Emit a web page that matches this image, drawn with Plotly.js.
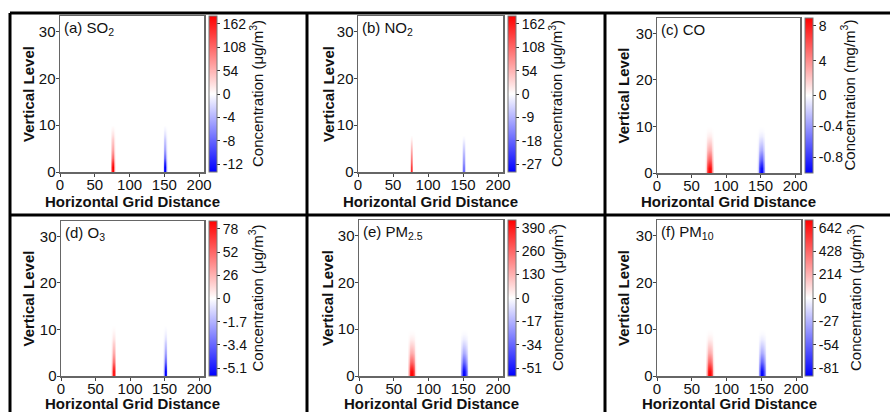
<!DOCTYPE html>
<html>
<head>
<meta charset="utf-8">
<script src="https://cdn.plot.ly/plotly-3.0.1.min.js"></script>
<style>html,body{margin:0;padding:0;background:#fff;}#chart{width:890px;height:412px;}</style>
</head>
<body>
<div id="chart"></div>
<script>
// ---- data ----
const panelLabels = ['(a) SO<sub>2</sub>', '(b) NO<sub>2</sub>', '(c) CO', '(d) O<sub>3</sub>', '(e) PM<sub>2.5</sub>', '(f) PM<sub>10</sub>'];
const unitLabels = ['μg/m<sup>3</sup>', 'μg/m<sup>3</sup>', 'mg/m<sup>3</sup>', 'μg/m<sup>3</sup>', 'μg/m<sup>3</sup>', 'μg/m<sup>3</sup>'];
const xTitle = 'Horizontal Grid Distance';
const yTitle = 'Vertical Level';
// colour-bar ends (two-slope, centred on 0)
const cbarMax = [180, 180, 8.9, 86.7, 433, 713];
const cbarMin = [-13.3, -30, -1.0, -5.67, -56.7, -90];
// colour-bar tick labels
const posTicks = [[54, 108, 162], [54, 108, 162], [4, 8], [26, 52, 78], [130, 260, 390], [214, 428, 642]];
const negTicks = [[-4, -8, -12], [-9, -18, -27], [-0.4, -0.8], [-1.7, -3.4, -5.1], [-17, -34, -51], [-27, -54, -81]];
// plume peak values (surface) of the increase and decrease plumes
const redPeak = [180, 170, 8.9, 86.7, 433, 713];
const bluePeak = [-13.3, -28, -1.0, -5.67, -56.7, -90];
// plume centres (horizontal grid index)
const redCentre = [76, 76, 76, 76, 76, 76];
const blueCentre = [151, 151, 151, 151, 151, 151];
// horizontal plume profiles (relative, centred)
const thinProfile = [0.2, 0.7, 1, 0.7, 0.2];
const narrowProfile = [0.1, 0.45, 0.9, 1, 0.9, 0.45, 0.1];
const wideProfile = [0.05, 0.2, 0.45, 0.7, 0.9, 1, 1, 1, 0.9, 0.7, 0.45, 0.2, 0.05];
const panelHProfile = [narrowProfile, thinProfile, wideProfile, narrowProfile, wideProfile, wideProfile];
// vertical plume profiles (relative, level 0 upward)
const vertA = [1, 1, 0.85, 0.6, 0.45, 0.35, 0.27, 0.2, 0.12, 0.05, 0];
const vertB = [0.9, 0.8, 0.65, 0.52, 0.4, 0.3, 0.18, 0.06, 0, 0, 0];
const vertC = [1, 0.95, 0.8, 0.6, 0.45, 0.33, 0.23, 0.14, 0.07, 0.02, 0];
const vertD = [1, 1, 0.85, 0.62, 0.47, 0.37, 0.28, 0.2, 0.12, 0.06, 0.02];
const panelVProfile = [vertA, vertB, vertC, vertD, vertC, vertC];
const nCols = 207;   // horizontal grid points
const nLevels = 34;  // vertical levels
const xTicks = [0, 50, 100, 150, 200];
const yTicks = [0, 10, 20, 30];

// ---- layout geometry (pixels) ----
const W = 890, H = 412;
const plotBoxes = [
  [60, 204, 16, 172], [358, 503, 16, 172], [657, 800, 18, 173],
  [61, 204, 221, 376], [359, 503, 220, 376], [657, 801, 220, 376]
];
const cbarLeft = [209, 508, 805, 209, 508, 805];
const cbarTitleX = [256, 555, 848, 256, 556, 854];
const yTitleX = [28, 328, 623, 28, 327, 623];
const xTitleY = [201, 201, 201, 403, 403, 403];

const xs = Array.from({length: nCols}, (_, i) => i);
const ys = Array.from({length: nLevels}, (_, j) => j);

function normalise(v, k) {
  return v >= 0 ? v / cbarMax[k] : v / Math.abs(cbarMin[k]);
}

const bwr = [[0, 'rgb(0,0,255)'], [0.5, 'rgb(255,255,255)'], [1, 'rgb(255,0,0)']];
const FS = 15, TFS = 14;

const traces = [];
const layout = {
  width: W, height: H,
  margin: {l: 0, r: 0, t: 0, b: 0},
  paper_bgcolor: '#fff', plot_bgcolor: '#fff',
  font: {family: 'Liberation Sans, Arial, sans-serif', size: FS, color: '#111'},
  showlegend: false,
  annotations: [],
  shapes: []
};

for (let k = 0; k < 6; k++) {
  const hp = panelHProfile[k], vp = panelVProfile[k];
  const half = (hp.length - 1) / 2;
  const z = ys.map(j => xs.map(i => {
    let v = 0;
    const vr = j < vp.length ? vp[j] : 0;
    const dr = i - redCentre[k] + half;
    if (dr >= 0 && dr < hp.length) v += redPeak[k] * vr * hp[dr];
    const db = i - blueCentre[k] + half;
    if (db >= 0 && db < hp.length) v += bluePeak[k] * vr * hp[db];
    return normalise(v, k);
  }));
  const tv = [0], tt = ['0'];
  posTicks[k].forEach(t => { tv.push(normalise(t, k)); tt.push(String(t)); });
  negTicks[k].forEach(t => { tv.push(normalise(t, k)); tt.push(String(t)); });
  const [x0, x1, y0, y1] = plotBoxes[k];
  const sfx = k === 0 ? '' : String(k + 1);
  traces.push({
    type: 'heatmap', x: xs, y: ys, z: z,
    xaxis: 'x' + sfx, yaxis: 'y' + sfx,
    zmin: -1, zmax: 1, colorscale: bwr, zsmooth: 'best',
    hoverinfo: 'skip',
    colorbar: {
      x: cbarLeft[k] / W, xanchor: 'left', xpad: 0, ypad: 0,
      y: 1 - ((y0 + y1) / 2) / H, yanchor: 'middle',
      len: (y1 - y0), lenmode: 'pixels', thickness: 8,
      outlinewidth: 1, outlinecolor: '#777',
      tickmode: 'array', tickvals: tv, ticktext: tt,
      ticks: 'outside', ticklen: 3, tickcolor: '#333',
      tickfont: {size: TFS, color: '#111'}
    }
  });
  const axCommon = {
    showline: true, mirror: true, linecolor: '#666', linewidth: 1.5,
    ticks: 'outside', ticklen: 3, tickcolor: '#444',
    showgrid: true, gridcolor: '#d4d4d4', griddash: 'dot', gridwidth: 1,
    zeroline: false, tickfont: {size: FS, color: '#111'}
  };
  layout['xaxis' + sfx] = Object.assign({}, axCommon, {
    domain: [x0 / W, x1 / W], anchor: 'y' + sfx, range: [0, 207],
    tickmode: 'array', tickvals: xTicks, ticklabelstandoff: -5
  });
  layout['yaxis' + sfx] = Object.assign({}, axCommon, {
    domain: [1 - y1 / H, 1 - y0 / H], anchor: 'x' + sfx, range: [0, 33.3],
    tickmode: 'array', tickvals: yTicks, ticklabelstandoff: -3
  });
  layout.annotations.push({
    xref: 'x' + sfx + ' domain', yref: 'y' + sfx + ' domain',
    x: 0.012, y: 0.995, xanchor: 'left', yanchor: 'top', showarrow: false,
    text: panelLabels[k], font: {size: FS, color: '#111'}
  });
  // axis titles
  layout.annotations.push({
    xref: 'paper', yref: 'paper',
    x: ((x0 + x1) / 2) / W, y: 1 - xTitleY[k] / H, xanchor: 'center', yanchor: 'middle',
    showarrow: false, text: '<b>' + xTitle + '</b>', font: {size: FS, color: '#111'}
  });
  layout.annotations.push({
    xref: 'paper', yref: 'paper',
    x: yTitleX[k] / W, y: 1 - ((y0 + y1) / 2) / H, xanchor: 'center', yanchor: 'middle',
    textangle: -90, showarrow: false, text: '<b>' + yTitle + '</b>', font: {size: FS, color: '#111'}
  });
  // colour-bar title
  layout.annotations.push({
    xref: 'paper', yref: 'paper',
    x: cbarTitleX[k] / W, y: 1 - ((y0 + y1) / 2) / H, xanchor: 'center', yanchor: 'middle',
    textangle: -90, showarrow: false, text: 'Concentration (' + unitLabels[k] + ')', font: {size: FS, color: '#111'}
  });
}

// table-like frame lines
const frameLines = [
  [10, 13, 890, 13], [10, 215, 890, 215],
  [10, 13, 10, 412], [307, 13, 307, 412], [605, 13, 605, 412]
];
frameLines.forEach(([ax, ay, bx, by]) => {
  layout.shapes.push({
    type: 'line', xref: 'paper', yref: 'paper',
    x0: ax / W, y0: 1 - ay / H, x1: bx / W, y1: 1 - by / H,
    line: {color: '#000', width: 3}
  });
});

Plotly.newPlot('chart', traces, layout, {displayModeBar: false, staticPlot: true});
</script>
</body>
</html>
